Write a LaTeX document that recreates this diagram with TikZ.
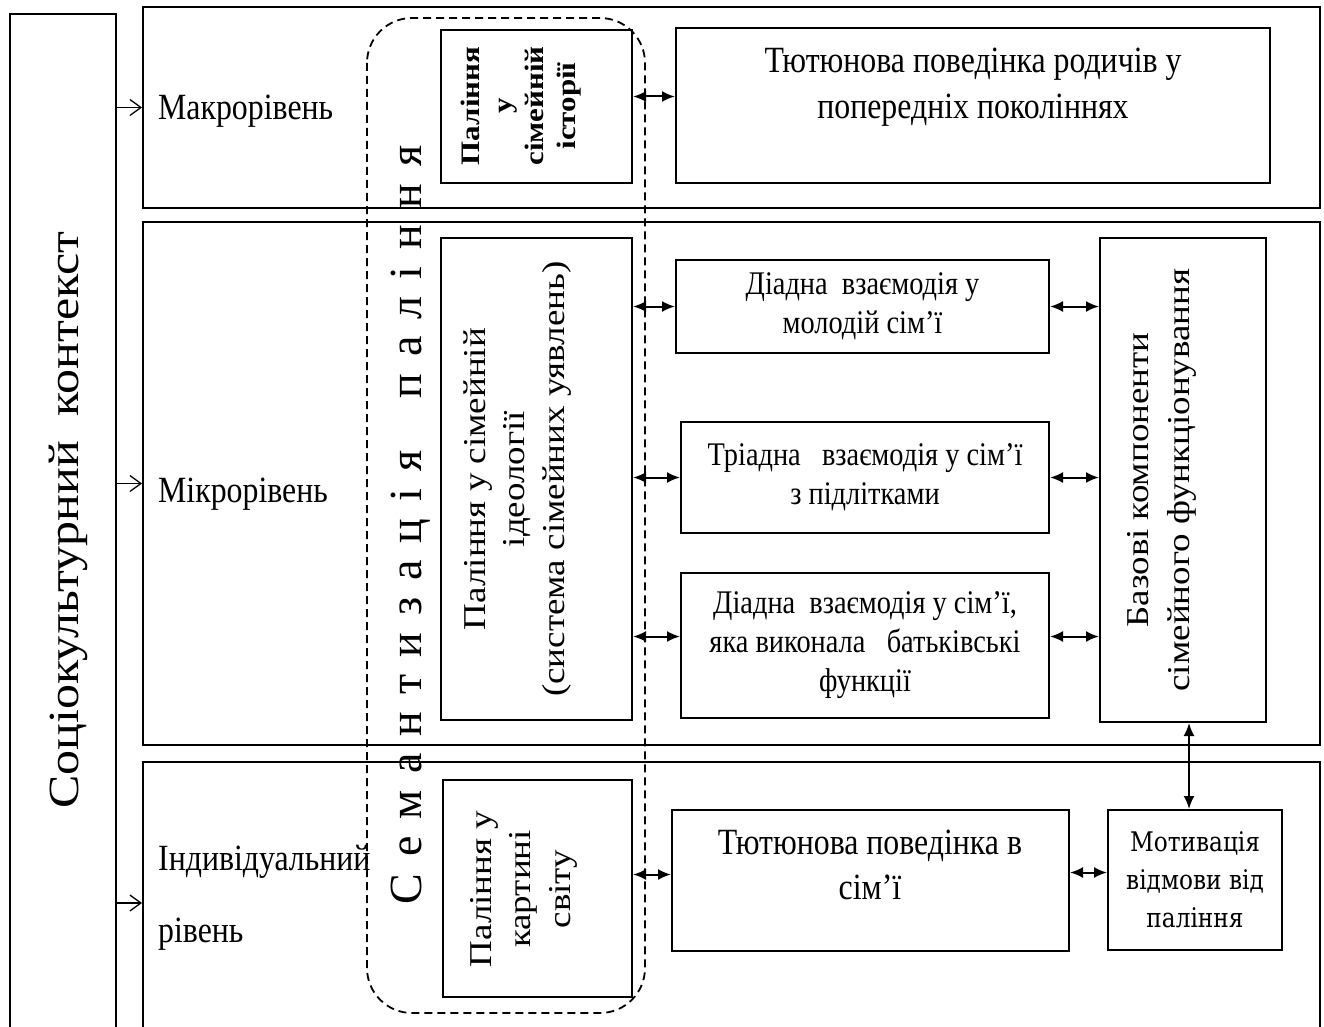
\documentclass[tikz,border=0pt]{standalone}
\usepackage{fontspec}
\usepackage{graphicx}
\setmainfont{Liberation Serif}[FakeStretch=0.86]
\newfontfamily\vfont{Liberation Serif}
\newfontfamily\mfont{DejaVu Serif}[FakeStretch=0.86]
\usetikzlibrary{arrows.meta}
\newcommand{\vtxt}[2]{\rotatebox{90}{\scalebox{1}[0.86]{#1\begin{tabular}{@{}c@{}}#2\end{tabular}}}}

\begin{document}
\begin{tikzpicture}[x=1pt, y=-1pt,
    box/.style={draw, line width=2pt, inner sep=0pt},
    tbox/.style={box, align=center, font=\fontsize{33}{39}\selectfont},
    lbl/.style={anchor=base west, inner sep=0pt, font=\fontsize{37}{45}\selectfont},
    dbl/.style={{Latex[length=13pt,width=11pt]}-{Latex[length=13pt,width=11pt]}, line width=2pt},
    lvl/.style={-{Straight Barb[length=11pt,width=16pt]}, line width=1.3pt}]
    \fill[white] (0,0) rectangle (1324,1027);
    \useasboundingbox (0,0) rectangle (1324,1027);
    % рівні
    \node[box, minimum width=106pt, minimum height=1046pt] (ctx) at (63,537) {};
    \node[box, minimum width=1177pt, minimum height=201pt] (macro) at (731.5,107.5) {};
    \node[box, minimum width=1177pt, minimum height=523pt] (micro) at (731.5,483.5) {};
    \node[box, minimum width=1177pt, minimum height=282pt] (indiv) at (731.5,903) {};
    \node (ctxT) at (68,520) {\vtxt{\vfont\fontsize{50}{60}\selectfont}{Соціокультурний\ \ контекст}};
    \node[lbl] (macroT) at (158,120) {Макрорівень};
    \node[lbl] (microT) at (158,502) {Мікрорівень};
    \node[lbl] (indivT) at (158,870) {Індивідуальний};
    \node[lbl] (indivT2) at (158,942) {рівень};
    \draw[lvl] (ctx.east |- macro) -- (macro.west);
    \draw[lvl] (ctx.east |- micro) -- (micro.west);
    \draw[lvl] (ctx.east |- indiv) -- (indiv.west);
    % семантизація
    \draw[dash pattern=on 8pt off 5pt, line width=1.8pt, rounded corners=45pt] (367,18) rectangle (645,1013);
    \node[rotate=90, inner sep=0pt, font=\vfont\fontsize{46}{50}\selectfont] (sem) at (411,525)
        {\spaceskip=17pt С е м а н т и з а ц і я\hspace{52pt}п а л і н н я};
    % макрорівень
    \node[box, minimum width=191pt, minimum height=153pt] (hist) at (536.5,106.5) {};
    \node (histT) at (521,106) {\vtxt{\vfont\bfseries\fontsize{31}{37}\selectfont}{Паління\\у\\сімейній\\історії}};
    \node[box, minimum width=594pt, minimum height=155pt] (anc) at (973,105.5) {};
    \node[align=center, font=\fontsize{37}{46}\selectfont] (ancT) at (973,87) {Тютюнова поведінка родичів у\\попередніх поколіннях};
    \draw[dbl] ([yshift=9pt]anc.west -| hist.east) -- ([yshift=9pt]anc.west);
    % мікрорівень
    \node[box, minimum width=191pt, minimum height=482pt] (ideo) at (536.5,479) {};
    \node (ideoT) at (517,479) {\vtxt{\vfont\fontsize{37}{46}\selectfont}{Паління у сімейній\\ідеології\\(система сімейних уявлень)}};
    \node[tbox, minimum width=373pt, minimum height=93pt] (dyad1) at (862.5,306.5) {Діадна\ \ взаємодія у\\молодій сім’ї};
    \node[tbox, minimum width=368pt, minimum height=111pt] (triad) at (865,477.5) {Тріадна\ \ \ взаємодія у сім’ї\\з підлітками};
    \node[tbox, minimum width=368pt, minimum height=145pt] (dyad2) at (865,645.5) {Діадна\ \ взаємодія у сім’ї,\\яка виконала\ \ \ батьківські\\функції};
    \node[box, minimum width=166pt, minimum height=484pt] (base) at (1183,480) {};
    \node (baseT) at (1161,480) {\vtxt{\vfont\fontsize{37}{48}\selectfont}{Базові компоненти\\сімейного функціонування}};
    \draw[dbl] (ideo.east |- dyad1) -- (dyad1.west);
    \draw[dbl] (ideo.east |- triad) -- (triad.west);
    \draw[dbl] ([yshift=9pt]dyad2.west -| ideo.east) -- ([yshift=9pt]dyad2.west);
    \draw[dbl] (dyad1.east) -- (dyad1.east -| base.west);
    \draw[dbl] (triad.east) -- (triad.east -| base.west);
    \draw[dbl] ([yshift=9pt]dyad2.east) -- ([yshift=9pt]dyad2.east -| base.west);
    % індивідуальний рівень
    \node[box, minimum width=189pt, minimum height=217pt] (world) at (537.5,888.5) {};
    \node (worldT) at (523,889) {\vtxt{\vfont\fontsize{37}{46}\selectfont}{Паління у\\картині\\світу}};
    \node[box, minimum width=397pt, minimum height=141pt] (fam) at (870.5,880.5) {};
    \node[align=center, font=\fontsize{37}{45}\selectfont] (famT) at (870,865) {Тютюнова поведінка в\\сім’ї};
    \node[box, minimum width=174pt, minimum height=140pt, align=center, font=\mfont\fontsize{27}{38}\selectfont] (motiv) at (1195,880) {Мотивація\\відмови від\\паління};
    \draw[dbl] ([yshift=6pt]fam.west -| world.east) -- ([yshift=6pt]fam.west);
    \draw[dbl] ([yshift=8pt]fam.east) -- ([yshift=8pt]fam.east -| motiv.west);
    \draw[dbl] ([xshift=6pt]base.south) -- ([xshift=6pt]base.south |- motiv.north);
\end{tikzpicture}
\end{document}
